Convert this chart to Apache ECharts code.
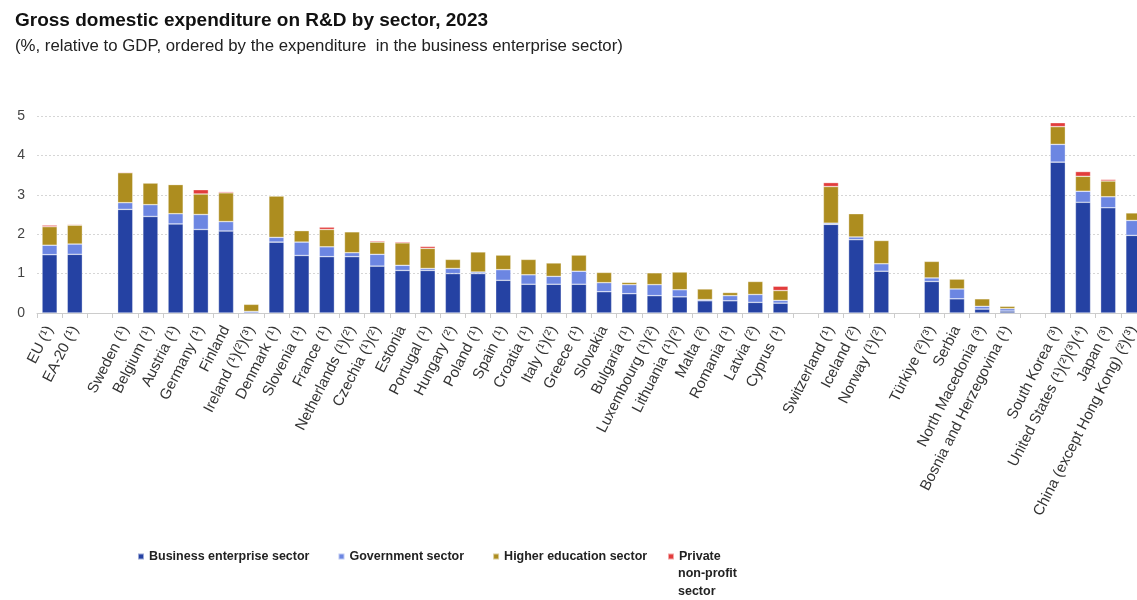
<!DOCTYPE html>
<html>
<head>
<meta charset="utf-8">
<script src="https://cdn.jsdelivr.net/npm/echarts@6/dist/echarts.min.js"></script>
<style>
  html, body { margin: 0; padding: 0; background: #ffffff; }
  #chart { width: 1137px; height: 600px; }
</style>
</head>
<body>
<div id="chart"></div>
<script>
// Countries in display order; blank entries are spacer slots between groups
const categories = [
  'EU (¹)', 'EA-20 (¹)', ' ',
  'Sweden (¹)', 'Belgium (¹)', 'Austria (¹)', 'Germany (¹)', 'Finland', 'Ireland (¹)(²)(³)',
  'Denmark (¹)', 'Slovenia (¹)', 'France (¹)', 'Netherlands (¹)(²)', 'Czechia (¹)(²)', 'Estonia',
  'Portugal (¹)', 'Hungary (²)', 'Poland (¹)', 'Spain (¹)', 'Croatia (¹)', 'Italy (¹)(²)',
  'Greece (¹)', 'Slovakia', 'Bulgaria (¹)', 'Luxembourg (¹)(²)', 'Lithuania (¹)(²)', 'Malta (²)',
  'Romania (¹)', 'Latvia (²)', 'Cyprus (¹)', '  ',
  'Switzerland (¹)', 'Iceland (²)', 'Norway (¹)(²)', '   ',
  'Türkiye (²)(³)', 'Serbia', 'North Macedonia (³)', 'Bosnia and Herzegovina (¹)', '    ',
  'South Korea (³)', 'United States (¹)(²)(³)(⁴)', 'Japan (³)', 'China (except Hong Kong) (²)(³)'
];

// GERD by sector, % of GDP
const business = [
  1.48, 1.49, null,
  2.63, 2.45, 2.26, 2.12, 2.08, null,
  1.80, 1.46, 1.43, 1.43, 1.19, 1.08,
  1.08, 1.00, 1.00, 0.83, 0.73, 0.73,
  0.73, 0.54, 0.49, 0.44, 0.41, 0.31,
  0.31, 0.27, 0.25, null,
  2.25, 1.86, 1.06, null,
  0.80, 0.36, 0.10, 0.05, null,
  3.83, 2.81, 2.67, 1.97
];
const government = [
  0.24, 0.26, null,
  0.17, 0.30, 0.26, 0.38, 0.24, 0.04,
  0.12, 0.34, 0.25, 0.10, 0.30, 0.13,
  0.05, 0.13, 0.04, 0.27, 0.24, 0.20,
  0.33, 0.23, 0.23, 0.28, 0.18, 0.03,
  0.13, 0.20, 0.07, null,
  0.03, 0.07, 0.19, null,
  0.09, 0.25, 0.07, 0.06, null,
  0.45, 0.28, 0.28, 0.38
];
const higherEducation = [
  0.47, 0.48, null,
  0.76, 0.55, 0.74, 0.52, 0.73, 0.18,
  1.05, 0.29, 0.44, 0.53, 0.31, 0.57,
  0.51, 0.23, 0.51, 0.37, 0.39, 0.34,
  0.41, 0.26, 0.06, 0.30, 0.45, 0.27,
  0.08, 0.33, 0.25, null,
  0.93, 0.59, 0.59, null,
  0.42, 0.25, 0.19, 0.06, null,
  0.45, 0.38, 0.40, 0.19
];
const privateNonProfit = [
  0.04, 0.02, null,
  0.02, 0.01, 0.01, 0.11, 0.03, null,
  0.01, null, 0.06, null, 0.03, 0.03,
  0.05, null, null, null, null, null,
  null, null, 0.01, null, null, null,
  null, null, 0.11, null,
  0.10, null, null, null,
  null, null, null, null, null,
  0.10, 0.12, 0.04, null
];

const yTicks = [0, 1, 2, 3, 4, 5];

const seriesNames = [
  'Business enterprise sector',
  'Government sector',
  'Higher education sector',
  'Private non-profit sector'
];
const seriesColors = ['#2542a3', '#6c86e2', '#ad8d1f', '#e23c3c'];
const seriesValues = [business, government, higherEducation, privateNonProfit];

const FONT = 'Liberation Sans, Arial, sans-serif';
const chart = echarts.init(document.getElementById('chart'), null, { renderer: 'canvas' });

const option = {
  backgroundColor: '#ffffff',
  animation: false,
  textStyle: { fontFamily: FONT },
  title: {
    left: 10,
    top: 6,
    text: 'Gross domestic expenditure on R&D by sector, 2023',
    subtext: '(%, relative to GDP, ordered by the expenditure  in the business enterprise sector)',
    itemGap: 8,
    textStyle: { fontSize: 19, fontWeight: 'bold', color: '#111111', fontFamily: FONT },
    subtextStyle: { fontSize: 16.8, color: '#222222', fontFamily: FONT }
  },
  legend: [
    {
      data: seriesNames.slice(0, 3),
      left: 132,
      top: 545,
      icon: 'rect',
      itemWidth: 6,
      itemHeight: 6,
      itemGap: 28,
      textStyle: { fontSize: 12.5, fontWeight: 'bold', color: '#222222' }
    },
    {
      data: [seriesNames[3]],
      left: 662,
      top: 545,
      icon: 'rect',
      itemWidth: 6,
      itemHeight: 6,
      formatter: () => 'Private',
      textStyle: { fontSize: 12.5, fontWeight: 'bold', color: '#222222' }
    }
  ],
  // continuation of the wrapped "Private non-profit sector" legend label
  graphic: [
    {
      type: 'text',
      left: 678,
      top: 564,
      style: {
        text: 'non-profit\nsector',
        fontSize: 12.5,
        fontWeight: 'bold',
        fill: '#222222',
        lineHeight: 18.5,
        fontFamily: FONT
      }
    }
  ],
  grid: {
    left: 37,
    top: 116,
    width: 1109,
    height: 197,
    containLabel: false,
    outerBoundsMode: 'none'
  },
  xAxis: {
    type: 'category',
    data: categories,
    axisLine: { show: true, lineStyle: { color: '#cccccc', width: 1 } },
    axisTick: { show: true, length: 5, lineStyle: { color: '#cccccc' } },
    axisLabel: {
      interval: 0,
      rotate: 63,
      fontSize: 15,
      color: '#333333',
      margin: 14
    }
  },
  yAxis: {
    type: 'value',
    min: yTicks[0],
    max: yTicks[yTicks.length - 1],
    interval: 1,
    axisLine: { show: false },
    axisTick: { show: false },
    axisLabel: { fontSize: 14, color: '#444444', margin: 12 },
    splitLine: { show: true, lineStyle: { color: '#d6d6d6', type: [2, 2], width: 1 } }
  },
  series: seriesNames.map((name, i) => ({
    name: name,
    type: 'bar',
    stack: 'gerd',
    barWidth: '60%',
    data: seriesValues[i],
    itemStyle: {
      color: seriesColors[i],
      borderColor: 'rgba(255,255,255,0.55)',
      borderWidth: 0.6
    }
  }))
};

chart.setOption(option);
</script>
</body>
</html>
